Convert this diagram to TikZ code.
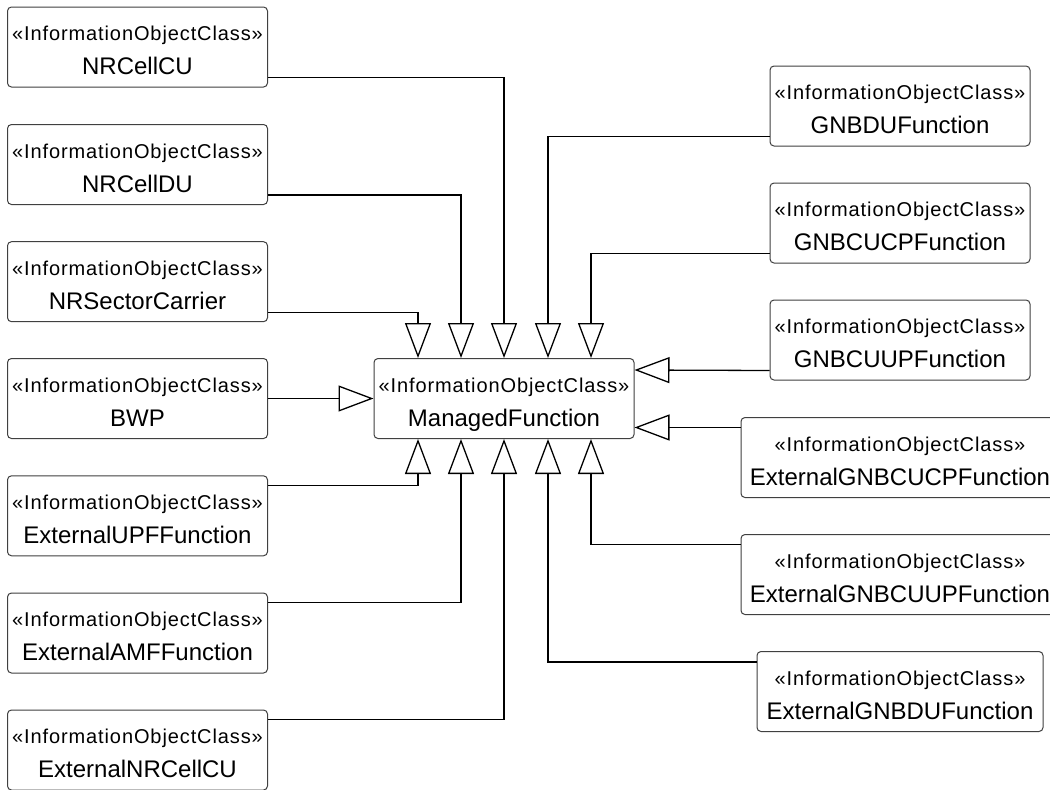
\documentclass[tikz,border=0pt]{standalone}
\usepackage{fontspec}
\setmainfont{Liberation Sans}
\usetikzlibrary{arrows.meta}
\newcommand{\stereo}{{\fontsize{20}{34}\selectfont\addfontfeature{LetterSpace=4.5}\rule{0pt}{26pt}«InformationObjectClass»}}
\newcommand{\iocname}[1]{\stereo\\\rule[-5pt]{0pt}{0pt}#1}
\tikzset{
  ioc/.style={draw=black!75,line width=1pt,rounded corners=4pt,minimum width=260pt,minimum height=80pt,
    align=center,inner sep=0pt,font=\fontsize{24}{34}\selectfont},
  gen/.style={line width=1.3pt,-{Triangle[open,length=35pt,width=26pt]}}
}
\begin{document}
\begin{tikzpicture}[x=1pt,y=-1pt]
  \clip (0,0) rectangle (1050,790);
  \fill[white] (0,0) rectangle (1050,790);
  \node[ioc] (mf) at (504,398.5) {\iocname{ManagedFunction}};
  \node[ioc] (cellcu) at (137.5,47) {\iocname{NRCellCU}};
  \node[ioc] (celldu) at (137.5,164.5) {\iocname{NRCellDU}};
  \node[ioc] (sector) at (137.5,281.7) {\iocname{NRSectorCarrier}};
  \node[ioc] (bwp) at (137.5,398.5) {\iocname{BWP}};
  \node[ioc] (extupf) at (137.5,515.8) {\iocname{ExternalUPFFunction}};
  \node[ioc] (extamf) at (137.5,633) {\iocname{ExternalAMFFunction}};
  \node[ioc] (extcellcu) at (137.5,750) {\iocname{ExternalNRCellCU}};
  \node[ioc] (gnbdu) at (900,106) {\iocname{GNBDUFunction}};
  \node[ioc] (gnbcucp) at (900,223) {\iocname{GNBCUCPFunction}};
  \node[ioc] (gnbcuup) at (900,340) {\iocname{GNBCUUPFunction}};
  \node[ioc,minimum width=318pt] (extcucp) at (900,457.5) {\iocname{ExternalGNBCUCPFunction}};
  \node[ioc,minimum width=318pt] (extcuup) at (900,574.5) {\iocname{ExternalGNBCUUPFunction}};
  \node[ioc,minimum width=286pt] (extdu) at (900,691.5) {\iocname{ExternalGNBDUFunction}};
  \draw[gen] ([yshift=10pt]cellcu.south east) -| (mf.north);
  \draw[gen] ([yshift=10pt]celldu.south east) -| ([xshift=-43pt]mf.north);
  \draw[gen] ([yshift=10pt]sector.south east) -| ([xshift=-86pt]mf.north);
  \draw[gen] (bwp.east) -- (mf.west);
  \draw[gen] ([yshift=-10pt]extupf.north east) -| ([xshift=-86pt]mf.south);
  \draw[gen] ([yshift=-10pt]extamf.north east) -| ([xshift=-43pt]mf.south);
  \draw[gen] ([yshift=-10pt]extcellcu.north east) -| (mf.south);
  \draw[gen] ([yshift=10pt]gnbdu.south west) -| ([xshift=44pt]mf.north);
  \draw[gen] ([yshift=10pt]gnbcucp.south west) -| ([xshift=87pt]mf.north);
  \draw[gen] ([yshift=10pt]gnbcuup.south west) -- ([yshift=28.5pt]mf.east);
  \draw[gen] ([yshift=-10.5pt]extcucp.north west) -- ([yshift=-29pt]mf.east);
  \draw[gen] ([yshift=-10.5pt]extcuup.north west) -| ([xshift=87pt]mf.south);
  \draw[gen] ([yshift=-11pt]extdu.north west) -| ([xshift=44pt]mf.south);
\end{tikzpicture}
\end{document}
